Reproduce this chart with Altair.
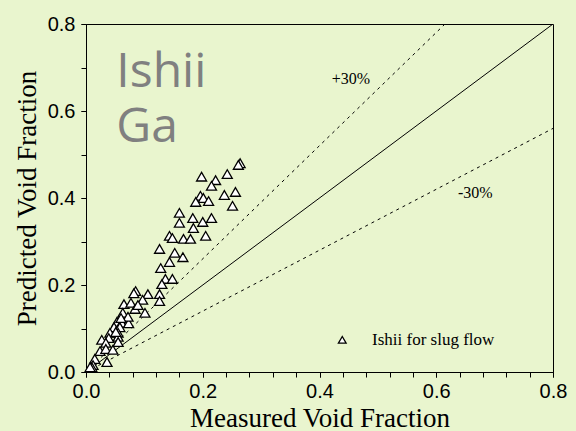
import altair as alt
import pandas as pd

# Measured vs predicted void fraction (Ishii, slug flow)
measured = [0.264, 0.261, 0.198, 0.242, 0.222, 0.215, 0.196, 0.201, 0.188, 0.210,
            0.237, 0.256, 0.251, 0.160, 0.160, 0.183, 0.200, 0.215, 0.184, 0.143,
            0.148, 0.167, 0.179, 0.205, 0.126, 0.152, 0.166, 0.143, 0.128, 0.136,
            0.148, 0.130, 0.106, 0.126, 0.126, 0.097, 0.101,
            0.085, 0.082, 0.065, 0.077, 0.084, 0.063, 0.053, 0.061, 0.073,
            0.048, 0.058, 0.041, 0.055, 0.055, 0.039, 0.027, 0.034, 0.055,
            0.024, 0.034, 0.046, 0.036, 0.015, 0.012, 0.010, 0.007,
            0.089, 0.072, 0.060, 0.051]
predicted = [0.480, 0.476, 0.449, 0.455, 0.441, 0.428, 0.405, 0.400, 0.391, 0.393,
             0.407, 0.414, 0.382, 0.366, 0.343, 0.354, 0.345, 0.354, 0.331, 0.313,
             0.308, 0.306, 0.306, 0.313, 0.283, 0.274, 0.264, 0.253, 0.239, 0.214,
             0.214, 0.202, 0.179, 0.179, 0.163, 0.166, 0.136,
             0.186, 0.181, 0.156, 0.159, 0.145, 0.136, 0.115, 0.113, 0.112,
             0.103, 0.103, 0.090, 0.090, 0.081, 0.078, 0.074, 0.067, 0.069,
             0.048, 0.053, 0.051, 0.023, 0.030, 0.016, 0.011, 0.011,
             0.154, 0.127, 0.124, 0.092]
series_name = "Ishii for slug flow"

# reference lines (endpoints)
line_x = [0.0, 0.8]
line_y = [0.0, 0.8]
plus30_x = [0.0, 0.615]
plus30_y = [0.0, 0.8]
minus30_x = [0.0, 0.8]
minus30_y = [0.0, 0.56]

# annotation texts
band_labels = ["+30%", "-30%"]
band_x = [0.454, 0.667]
band_y = [0.674, 0.411]
big_labels = ["Ishii", "Ga"]
big_x = [0.052, 0.052]
big_y = [0.655, 0.528]

# legend entry position (in data units)
legend_sym_x = [0.439]
legend_sym_y = [0.074]
legend_txt_x = [0.490]

x_major = [0.0, 0.2, 0.4, 0.6, 0.8]
x_minor = [round(i * 0.04, 2) for i in range(21)]
y_major = [0.0, 0.2, 0.4, 0.6, 0.8]
y_minor = [round(i * 0.1, 1) for i in range(9)]

BG = "#E9F5CE"
SERIF = "Liberation Serif"
SANS = "Liberation Sans"

pts = pd.DataFrame({"x": measured, "y": predicted})
df_line = pd.DataFrame({"x": line_x, "y": line_y})
df_p30 = pd.DataFrame({"x": plus30_x, "y": plus30_y})
df_m30 = pd.DataFrame({"x": minus30_x, "y": minus30_y})
df_band = pd.DataFrame({"x": band_x, "y": band_y, "t": band_labels})
df_big = pd.DataFrame({"x": big_x, "y": big_y, "t": big_labels})
df_leg_sym = pd.DataFrame({"x": legend_sym_x, "y": legend_sym_y})
df_leg_txt = pd.DataFrame({"x": legend_txt_x, "y": legend_sym_y, "t": [series_name]})

xscale = alt.Scale(domain=[0, 0.8], nice=False, zero=False)
yscale = alt.Scale(domain=[0, 0.8], nice=False, zero=False)

common = dict(grid=False, labelFont=SANS, labelFontSize=20, labelColor="black",
              titleFont=SERIF, titleFontSize=27, titleFontWeight="normal", titleColor="black",
              domainColor="black", tickColor="black", labelFlush=False, labelOverlap=False)

# main layer: labelled major ticks
xax = alt.Axis(values=x_major, format=".1f", title="Measured Void Fraction",
               tickSize=5, labelPadding=4, titlePadding=4, orient="bottom", **common)
yax = alt.Axis(values=y_major, format=".1f", title="Predicted Void Fraction",
               tickSize=5, labelPadding=6, titlePadding=6, orient="left", **common)

solid = alt.Chart(df_line).mark_line(color="black", strokeWidth=1, clip=True).encode(
    x=alt.X("x:Q", scale=xscale, axis=xax), y=alt.Y("y:Q", scale=yscale, axis=yax))

# minor ticks: unlabelled axes on the same scales
xax_minor = alt.Axis(values=x_minor, labels=False, title=None, tickSize=5, domain=False,
                     grid=False, tickColor="black", orient="bottom")
yax_minor = alt.Axis(values=y_minor, labels=False, title=None, tickSize=5, domain=False,
                     grid=False, tickColor="black", orient="left")

p30 = alt.Chart(df_p30).mark_line(color="black", strokeWidth=1, strokeDash=[3, 4], clip=True).encode(
    x=alt.X("x:Q", scale=xscale, axis=xax_minor), y=alt.Y("y:Q", scale=yscale, axis=yax_minor))
m30 = alt.Chart(df_m30).mark_line(color="black", strokeWidth=1, strokeDash=[3, 4], clip=True).encode(
    x=alt.X("x:Q", scale=xscale, axis=None), y=alt.Y("y:Q", scale=yscale, axis=None))

points = alt.Chart(pts).mark_point(filled=True, fill="white", stroke="black", strokeWidth=1.3,
                                   size=100, opacity=1, shape="triangle-up").encode(
    x=alt.X("x:Q", scale=xscale, axis=None), y=alt.Y("y:Q", scale=yscale, axis=None))

leg_sym = alt.Chart(df_leg_sym).mark_point(filled=True, fill="white", stroke="black", strokeWidth=1.3,
                                           size=60, opacity=1, shape="triangle-up").encode(
    x=alt.X("x:Q", scale=xscale, axis=None), y=alt.Y("y:Q", scale=yscale, axis=None))
leg_txt = alt.Chart(df_leg_txt).mark_text(font=SERIF, fontSize=17, color="black", align="left",
                                          baseline="middle").encode(
    x=alt.X("x:Q", scale=xscale, axis=None), y=alt.Y("y:Q", scale=yscale, axis=None), text="t:N")

band_text = alt.Chart(df_band).mark_text(font=SERIF, fontSize=16, color="black").encode(
    x=alt.X("x:Q", scale=xscale, axis=None), y=alt.Y("y:Q", scale=yscale, axis=None), text="t:N")
big_text = alt.Chart(df_big).mark_text(font="Open Sans", fontSize=48, color="#808080",
                                       align="left", baseline="alphabetic").encode(
    x=alt.X("x:Q", scale=xscale, axis=None), y=alt.Y("y:Q", scale=yscale, axis=None), text="t:N")

chart = alt.layer(solid, p30, m30, points, leg_sym, leg_txt, band_text, big_text).resolve_axis(
    x="independent", y="independent"
).properties(
    width=467, height=348, background=BG,
    autosize=alt.AutoSizeParams(type="none"),
    padding={"left": 86, "top": 24, "right": 23, "bottom": 59},
).configure_view(stroke="black", strokeWidth=1, fill=BG).configure_axis(labelOverlap=False)

chart.save("out.html", embed_options={"renderer": "svg", "actions": False})
